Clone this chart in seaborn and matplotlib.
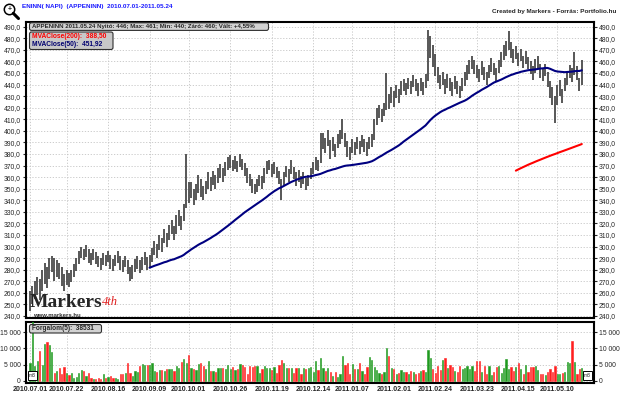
import numpy as np
import pandas as pd
import matplotlib
matplotlib.use("Agg")
import matplotlib.pyplot as plt
import seaborn as sns
from matplotlib.patches import FancyBboxPatch, Circle, Rectangle

# APPENINN daily bars 2010.07.01 - 2011.05.24
close = [
    252, 258, 262, 268, 260, 272, 278, 270, 283, 288,
    276, 284, 279, 272, 268, 274, 270, 275, 280, 286,
    292, 296, 293, 298, 291, 289, 294, 290, 287, 285,
    290, 288, 292, 286, 284, 289, 291, 286, 283, 288,
    281, 276, 279, 284, 287, 282, 286, 290, 285, 288,
    294, 300, 296, 305, 302, 310, 306, 314, 318, 312,
    322, 326, 320, 330, 352, 345, 350, 342, 348, 355,
    350, 346, 352, 358, 354, 360, 356, 362, 366, 362,
    368, 372, 375, 370, 373, 369, 376, 372, 368, 362,
    358, 352, 348, 354, 358, 355, 362, 370, 372, 366,
    369, 364, 360, 352, 360, 366, 362, 370, 364, 358,
    362, 356, 360, 354, 358, 364, 368, 372, 370, 385,
    392, 388, 395, 385, 390, 383, 392, 396, 400, 392,
    384, 380, 388, 385, 390, 386, 392, 388, 385, 390,
    392, 405, 415, 418, 414, 420, 430, 425, 432, 428,
    435, 430, 438, 440, 436, 442, 438, 444, 440, 436,
    441, 437, 444, 470, 478, 465, 456, 448, 442, 446,
    438, 444, 440, 436, 442, 438, 433, 440, 445, 450,
    456, 460, 455, 452, 448, 455, 450, 446, 452, 458,
    454, 449, 456, 462, 468, 472, 478, 470, 465, 468,
    462, 466, 460, 464, 459, 455, 450, 456, 460, 452,
    449, 453, 445, 435, 430, 420, 432, 438, 428, 440,
    446, 452, 448, 455, 450, 440, 460,
]
high = [
    262, 266, 270, 274, 272, 280, 286, 282, 290, 292,
    290, 288, 286, 282, 276, 280, 277, 280, 285, 290,
    296, 300, 298, 301, 298, 294, 298, 295, 292, 290,
    294, 293, 296, 293, 289, 293, 296, 292, 288, 292,
    288, 282, 284, 289, 292, 288, 291, 295, 291, 293,
    299, 305, 302, 310, 307, 315, 312, 319, 323, 318,
    327, 332, 326, 337, 380, 356, 356, 350, 354, 362,
    358, 352, 357, 364, 360, 365, 362, 368, 371, 368,
    373, 377, 379, 375, 378, 374, 380, 376, 372, 368,
    363, 358, 354, 358, 362, 361, 368, 374, 375, 371,
    373, 369, 365, 358, 364, 370, 367, 375, 369, 364,
    366, 361, 364, 359, 362, 368, 373, 377, 375, 398,
    398, 394, 401, 392, 395, 389, 397, 401, 410, 398,
    391, 386, 393, 390, 395, 391, 396, 393, 390, 395,
    397, 410, 420, 422, 419, 424, 450, 432, 438, 434,
    440, 436, 443, 445, 441, 446, 443, 448, 445, 441,
    446, 442, 449, 487, 482, 474, 466, 455, 448, 451,
    445, 449, 446, 442, 447, 443, 439, 446, 451, 457,
    461, 465, 461, 457, 453, 460, 455, 451, 457, 463,
    459, 454, 461, 468, 474, 478, 486, 477, 471, 473,
    467, 471, 465, 469, 464, 460, 456, 462, 465, 458,
    454, 458, 451, 443, 438, 430, 440, 444, 436, 446,
    451, 457, 454, 468, 456, 446, 461,
]
low = [
    244, 250, 255, 258, 254, 262, 268, 264, 272, 278,
    270, 274, 272, 266, 262, 267, 265, 269, 274, 279,
    285, 290, 288, 291, 286, 284, 288, 285, 282, 280,
    284, 283, 287, 281, 279, 283, 286, 280, 278, 282,
    276, 270, 272, 278, 281, 277, 280, 284, 280, 282,
    287, 293, 290, 297, 295, 303, 300, 306, 311, 306,
    311, 318, 314, 322, 333, 338, 342, 336, 340, 346,
    343, 340, 345, 350, 348, 353, 350, 355, 359, 356,
    361, 366, 368, 365, 367, 364, 369, 366, 361, 355,
    352, 346, 345, 347, 352, 350, 355, 363, 366, 360,
    363, 359, 354, 340, 353, 360, 356, 363, 358, 352,
    356, 351, 354, 349, 352, 358, 363, 366, 365, 372,
    384, 381, 387, 376, 383, 377, 385, 389, 393, 386,
    377, 375, 381, 379, 384, 380, 386, 382, 378, 384,
    386, 392, 405, 411, 408, 413, 418, 419, 424, 421,
    428, 424, 431, 434, 431, 436, 432, 438, 434, 430,
    434, 431, 437, 443, 463, 455, 447, 441, 436, 440,
    432, 437, 434, 430, 436, 432, 428, 434, 439, 444,
    449, 453, 449, 446, 442, 448, 444, 440, 446, 451,
    448, 443, 450, 455, 461, 465, 470, 463, 459, 462,
    456, 460, 454, 458, 453, 449, 444, 450, 454, 446,
    443, 447, 438, 428, 422, 407, 422, 430, 424, 434,
    440, 446, 442, 448, 444, 434, 440,
]
volume = [
    5600, 21000, 4500, 6000, 9300, 4800, 11400, 12000, 11000, 9000,
    2400, 3000, 4000, 2000, 4400, 2500, 1800, 2500, 800, 1200,
    2300, 3200, 3000, 1500, 2400, 1000, 500, 700, 1000, 700,
    2200, 1000, 1200, 1600, 1000, 800, 400, 2000, 2200, 2500,
    5500, 2500, 1500, 3000, 2700, 4500, 5200, 5000, 5000, 4900,
    5600, 3000, 2800, 3200, 3300, 3000, 3500, 3500, 3600, 3000,
    4600, 3800, 5800, 6600, 5400, 8000, 4000, 3500, 3200, 5200,
    5500, 4500, 3500, 6200, 3000, 3000, 2800, 4000, 4000, 4000,
    3500, 4900, 3700, 4200, 3200, 3500, 5200, 4800, 4200, 2000,
    4700, 4200, 4500, 4600, 2300, 3600, 4700, 3800, 4000, 3300,
    4300, 2500, 4900, 6500, 5500, 4000, 4000, 4100, 2500, 3800,
    4000, 2000, 4000, 3500, 4000, 4300, 2600, 6000, 3200, 7000,
    3800, 2900, 3800, 2700, 1600, 2600, 1300, 2200, 7700, 5000,
    5500, 2000, 5300, 3500, 3700, 5600, 3000, 2000, 4200, 7500,
    6500, 4400, 3200, 2500, 2000, 2600, 10000, 7800, 4100, 3500,
    2000, 2400, 3400, 2700, 2600, 2000, 3000, 2600, 2000, 2400,
    3100, 3200, 2600, 9500, 7200, 3500, 2500, 4700, 3400, 6300,
    7000, 3900, 5000, 4300, 3000, 2700, 4500, 3700, 3800, 4500,
    3700, 4500, 3000, 6000, 6200, 2700, 4600, 2000, 4600, 1800,
    2700, 4300, 4500, 2300, 3800, 6800, 3500, 4300, 3000, 4300,
    5500, 3600, 2000, 4900, 2700, 4200, 4200, 4600, 3200, 2000,
    2100, 1800, 2800, 3500, 2800, 4700, 2000, 2000, 2400, 2700,
    5900, 5500, 12200, 5900, 2000, 3600, 3850,
]

tick_days = [0, 15, 32, 49, 65, 82, 99, 116, 132, 149, 166, 183, 200, 216]
tick_labels = ["2010.07.01", "2010.07.22", "2010.08.16", "2010.09.09",
               "2010.10.01", "2010.10.26", "2010.11.19", "2010.12.14",
               "2011.01.07", "2011.02.01", "2011.02.24", "2011.03.23",
               "2011.04.15", "2011.05.10"]
price_ticks = list(range(240, 491, 10))
vol_ticks = [0, 5000, 10000, 15000]
vol_labels = ["0", "5 000", "10 000", "15 000"]

df = pd.DataFrame({"day": np.arange(len(close)), "close": close,
                   "high": high, "low": low, "volume": volume})
df["ma50"] = df["close"].rolling(50).mean()
df["ma200"] = df["close"].rolling(200).mean()
up = df["close"].diff().fillna(0) >= 0
bar_colors = np.where(up, "#1f9a1f", "#ff1f1f")

sns.set_style("white")
plt.rcParams["font.family"] = ["Liberation Sans", "DejaVu Sans"]

fig = plt.figure(figsize=(6.2, 3.97), dpi=100)
ax = fig.add_axes([26 / 620, 1 - 318.3 / 397, 568 / 620, 296.6 / 397])
axv = fig.add_axes([26 / 620, 1 - 382.7 / 397, 568 / 620, 61 / 397])

# -----------------------------
# price panel
# -----------------------------
ax.vlines(df["day"], df["low"], df["high"], color="#4a4a4a", lw=1.3, zorder=3)
sns.lineplot(data=df, x="day", y="ma50", ax=ax, color="#000080", lw=1.5,
             estimator=None, zorder=4)
sns.lineplot(data=df, x="day", y="ma200", ax=ax, color="#ff0000", lw=1.5,
             estimator=None, zorder=4)
ax.set_xlim(-1.6, 231)
ax.set_ylim(238, 494.3)
ax.set_yticks(price_ticks)
ax.set_yticklabels([f"{v},0" for v in price_ticks])
ax.set_xticks(tick_days)
ax.tick_params(axis="x", labelbottom=False, length=0)

# -----------------------------
# volume panel
# -----------------------------
axv.bar(df["day"], df["volume"], width=0.5, color=bar_colors,
        edgecolor=bar_colors, linewidth=0.4, zorder=3)
axv.set_xlim(-1.6, 231)
axv.set_ylim(-600, 18300)
axv.set_yticks(vol_ticks)
axv.set_yticklabels(vol_labels)
axv.set_xticks(tick_days)
axv.set_xticklabels(tick_labels, fontsize=5, fontweight="bold")
axv.tick_params(axis="x", length=0, pad=2.5)

for a in (ax, axv):
    a.set_xlabel("")
    a.set_ylabel("")
    a.grid(True, color="#c4c4c4", ls=(0, (1.5, 2)), lw=0.6)
    a.set_axisbelow(True)
    a.tick_params(axis="y", left=True, right=True, labelleft=True,
                  labelright=True, length=2.5, width=0.8, pad=1.2,
                  labelsize=4.9, direction="out")
    for s in a.spines.values():
        s.set_linewidth(1.5)
        s.set_color("black")

# -----------------------------
# headers, legend boxes, logo (pixel coords)
# -----------------------------
ov = fig.add_axes([0, 0, 1, 1])
ov.set_xlim(0, 620)
ov.set_ylim(397, 0)
ov.axis("off")

ov.add_patch(Circle((9.5, 9.5), 5.2, fc="white", ec="black", lw=1.1))
ov.plot([13.3, 18.5], [13.3, 18.5], color="black", lw=2.2, solid_capstyle="round")
ov.text(9.5, 9.7, "+", ha="center", va="center", fontsize=5, fontweight="bold")

ov.text(22, 6.5, "ENINN( NAPI)  (APPENINN)  2010.07.01-2011.05.24",
        color="#1c1cff", fontsize=4.6, fontweight="bold", va="center")
ov.text(616, 11.7, "Created by Markers - Forrás: Portfolio.hu",
        ha="right", va="center", fontsize=4.6, fontweight="bold")

ov.add_patch(FancyBboxPatch((29.5, 22.8), 239, 7.6,
                            boxstyle="round,pad=0,rounding_size=2",
                            fc="#d2d2d2", ec="#303030", lw=0.8))
ov.text(32.5, 26.8, "APPENINN 2011.05.24 Nyitó: 446; Max: 461; Min: 440; "
        "Záró: 460; Vált: +4,55%", fontsize=4.4, fontweight="bold", va="center")

ov.add_patch(FancyBboxPatch((29.5, 32), 83.5, 17.5,
                            boxstyle="round,pad=0,rounding_size=2",
                            fc="#c8c8c8", ec="#303030", lw=0.8))
ov.text(32, 36.5, "MVAClose(200):  388,50", color="#ff0000",
        fontsize=4.8, fontweight="bold", va="center")
ov.text(32, 45, "MVAClose(50):  451,92", color="#000070",
        fontsize=4.8, fontweight="bold", va="center")

ov.add_patch(FancyBboxPatch((29.5, 324.5), 72, 8.5,
                            boxstyle="round,pad=0,rounding_size=2",
                            fc="#d2d2d2", ec="#303030", lw=0.8))
ov.text(32, 328.8, "Forgalom(5):  38531", fontsize=4.7, fontweight="bold",
        va="center")

for x0 in (27.5, 583):
    ov.add_patch(Rectangle((x0, 371), 9, 8.5, fc="white", ec="black", lw=0.7))
    ov.text(x0 + 4.5, 375.3, "m3", ha="center", va="center", fontsize=3.6)

ov.text(29.5, 307, "Markers", family="Liberation Serif", fontsize=14,
        fontweight="bold", color="#262626", va="baseline")
ov.text(102, 305, "4th", family="Liberation Serif", fontsize=9,
        color="#e02020", style="italic", va="baseline")
ov.text(33, 317.3, "www.markers.hu", fontsize=4.3, fontweight="bold",
        color="#333333", va="baseline")

fig.savefig("out.png", dpi=100)
